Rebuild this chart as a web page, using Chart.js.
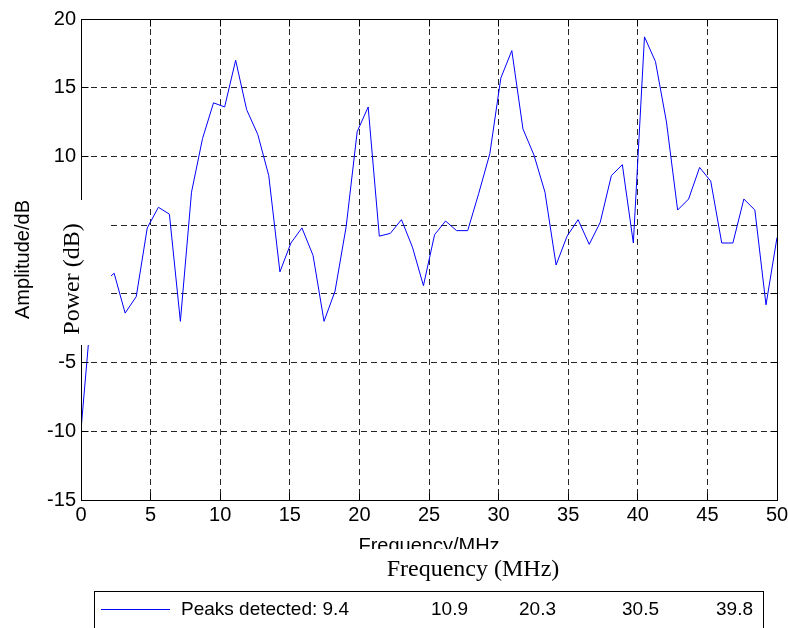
<!DOCTYPE html>
<html>
<head>
<meta charset="utf-8">
<title>Spectre</title>
<script src="https://cdn.jsdelivr.net/npm/chart.js@4.4.1/dist/chart.umd.min.js"></script>
<style>
  html, body { margin: 0; padding: 0; background: #fff; }
  #wrap { width: 788px; height: 628px; }
</style>
</head>
<body>
<div id="wrap"><canvas id="spectrum" width="788" height="628"></canvas></div>
<script>
// Données
const frequencies = [
  0, 0.79, 1.59, 2.38, 3.17, 3.97, 4.76, 5.56, 6.35, 7.14,
  7.94, 8.73, 9.52, 10.32, 11.11, 11.9, 12.7, 13.49, 14.29, 15.08,
  15.87, 16.67, 17.46, 18.25, 19.05, 19.84, 20.63, 21.43, 22.22, 23.02,
  23.81, 24.6, 25.4, 26.19, 26.98, 27.78, 28.57, 29.37, 30.16, 30.95,
  31.75, 32.54, 33.33, 34.13, 34.92, 35.71, 36.51, 37.3, 38.1, 38.89,
  39.68, 40.48, 41.27, 42.06, 42.86, 43.65, 44.44, 45.24, 46.03, 46.83,
  47.62, 48.41, 49.21, 50
];
const amplitudes = [
  -9.9, -0.6, 0.8, 1.5, -1.4, -0.2, 4.8, 6.3, 5.8, -2.0,
  7.4, 11.3, 13.9, 13.6, 17.0, 13.4, 11.6, 8.6, 1.6, 3.7,
  4.8, 2.8, -2.0, 0.2, 4.9, 11.8, 13.6, 4.2, 4.4, 5.4,
  3.4, 0.6, 4.3, 5.3, 4.6, 4.6, 7.3, 10.2, 15.7, 17.7,
  12.0, 10.1, 7.4, 2.1, 4.2, 5.4, 3.6, 5.2, 8.6, 9.4,
  3.7, 18.7, 16.9, 12.5, 6.1, 6.9, 9.2, 8.2, 3.7, 3.7,
  6.9, 6.1, -0.8, 4.1
];
const peakLabels = ["9.4", "10.9", "20.3", "30.5", "39.8"];
const xRange = [0, 50];
const yRange = [-15, 20];
const tickStep = 5;

const sansFont = "'Liberation Sans', Arial, sans-serif";
const serifFont = "'Liberation Serif', 'Times New Roman', serif";

const points = frequencies.map((f, i) => ({ x: f, y: amplitudes[i] }));

function gridColor(ctx, range) {
  const v = ctx.tick ? ctx.tick.value : null;
  return v === range[0] || v === range[1] ? "rgba(0,0,0,0)" : "#262626";
}

function alignPx(p) {
  return Math.round(p - 0.5) + 0.5;
}

// Cadre, graduations internes, encarts blancs et légende
const overlayPlugin = {
  id: "overlay",
  afterDraw(chart) {
    const { ctx, chartArea: a, scales } = chart;
    ctx.save();
    ctx.setLineDash([]);
    ctx.strokeStyle = "#000";
    ctx.lineWidth = 1;

    const L = alignPx(a.left), R = alignPx(a.right);
    const T = alignPx(a.top), B = alignPx(a.bottom);
    ctx.strokeRect(L, T, R - L, B - T);

    ctx.beginPath();
    scales.x.ticks.forEach((t) => {
      const px = alignPx(scales.x.getPixelForValue(t.value));
      ctx.moveTo(px, B); ctx.lineTo(px, B - 7);
      ctx.moveTo(px, T); ctx.lineTo(px, T + 7);
    });
    scales.y.ticks.forEach((t) => {
      const py = alignPx(scales.y.getPixelForValue(t.value));
      ctx.moveTo(L, py); ctx.lineTo(L + 7, py);
      ctx.moveTo(R, py); ctx.lineTo(R - 7, py);
    });
    ctx.stroke();

    // encart "Power (dB)"
    ctx.fillStyle = "#fff";
    ctx.fillRect(50, 200, 61, 145);
    ctx.save();
    ctx.translate(73, 279);
    ctx.rotate(-Math.PI / 2);
    ctx.fillStyle = "#000";
    ctx.font = "24px " + serifFont;
    ctx.textAlign = "center";
    ctx.textBaseline = "middle";
    ctx.fillText("Power (dB)", 0, 0);
    ctx.restore();

    // encart "Frequency (MHz)"
    ctx.fillStyle = "#fff";
    ctx.fillRect(300, 549, 360, 41);
    ctx.fillStyle = "#000";
    ctx.font = "24px " + serifFont;
    ctx.textAlign = "center";
    ctx.textBaseline = "alphabetic";
    ctx.fillText("Frequency (MHz)", 473, 576);

    // légende
    ctx.fillStyle = "#fff";
    ctx.fillRect(94, 591, 670, 40);
    ctx.strokeStyle = "#000";
    ctx.strokeRect(94.5, 591.5, 669, 60);
    ctx.strokeStyle = "#0000ff";
    ctx.beginPath();
    ctx.moveTo(101, 609.5);
    ctx.lineTo(170, 609.5);
    ctx.stroke();
    ctx.fillStyle = "#000";
    ctx.font = "19px " + sansFont;
    ctx.textAlign = "left";
    ctx.fillText("Peaks detected: " + peakLabels[0], 181, 615);
    const valueX = [431, 519, 622, 716];
    for (let i = 1; i < peakLabels.length; i++) {
      ctx.fillText(peakLabels[i], valueX[i - 1], 615);
    }
    ctx.restore();
  },
};

const ctx = document.getElementById("spectrum").getContext("2d");
const spectrumChart = new Chart(ctx, {
  type: "line",
  data: {
    datasets: [
      {
        data: points,
        borderColor: "#0000ff",
        borderWidth: 1,
        pointRadius: 0,
        tension: 0,
        fill: false,
      },
    ],
  },
  options: {
    responsive: false,
    animation: false,
    devicePixelRatio: 1,
    layout: { padding: { left: 0, right: 11, top: 19, bottom: 0 } },
    plugins: {
      legend: { display: false },
      tooltip: { enabled: false },
    },
    scales: {
      x: {
        type: "linear",
        min: xRange[0],
        max: xRange[1],
        afterFit: (scale) => {
          scale.height = 128;
          scale.paddingLeft = 0;
          scale.paddingRight = 0;
        },
        ticks: {
          stepSize: tickStep,
          color: "#000",
          padding: 3,
          maxRotation: 0,
          font: { family: sansFont, size: 20 },
        },
        grid: {
          color: (c) => gridColor(c, xRange),
          lineWidth: 1,
          drawTicks: false,
        },
        border: { display: false, dash: [6, 4] },
        title: {
          display: true,
          text: "Frequency/MHz",
          color: "#000",
          font: { family: sansFont, size: 20 },
          padding: { top: 0, bottom: 70 },
        },
      },
      y: {
        min: yRange[0],
        max: yRange[1],
        afterFit: (scale) => { scale.width = 81; },
        ticks: {
          stepSize: tickStep,
          color: "#000",
          padding: 5,
          font: { family: sansFont, size: 20 },
        },
        grid: {
          color: (c) => gridColor(c, yRange),
          lineWidth: 1,
          drawTicks: false,
        },
        border: { display: false, dash: [6, 4] },
        title: {
          display: true,
          text: "Amplitude/dB",
          color: "#000",
          font: { family: sansFont, size: 20 },
          padding: { top: 11, bottom: 0 },
        },
      },
    },
  },
  plugins: [overlayPlugin],
});
</script>
</body>
</html>
